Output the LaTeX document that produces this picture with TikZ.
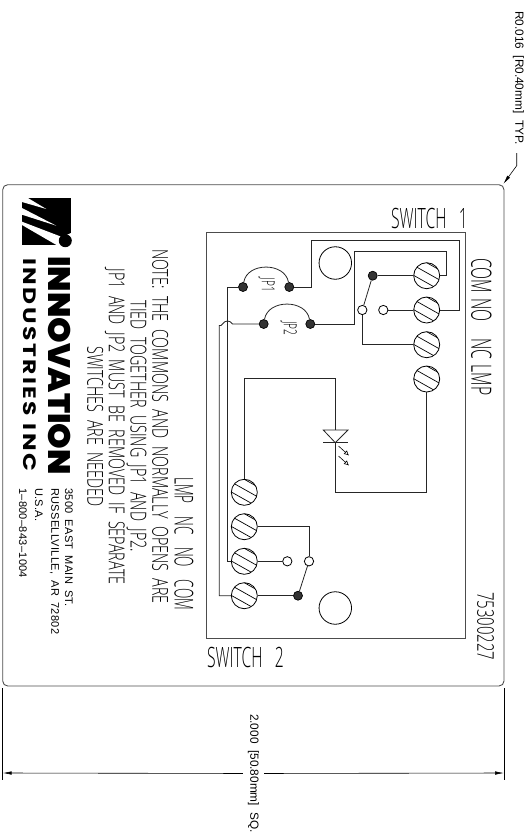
\documentclass[tikz,border=0pt]{standalone}
\usepackage{fontspec}
\usetikzlibrary{arrows.meta}
\newfontfamily\cadfont[FakeStretch=0.56,WordSpace=3]{Open Sans Light}
\newfontfamily\cadnarrow[FakeStretch=0.52,WordSpace=3.6]{Open Sans Light}
\newfontfamily\cadnote[FakeStretch=0.65,WordSpace=2]{Open Sans Light}
\newfontfamily\dimfont[WordSpace=2]{Liberation Sans}
\newfontfamily\addrfont[LetterSpace=3,WordSpace=1.8]{Liberation Sans}
\newfontfamily\logofont[FakeStretch=1.05]{Poppins Black}
\newfontfamily\logosub[FakeStretch=1.3,LetterSpace=14]{Poppins Bold}
\tikzset{
    wire/.style={draw=black!85,line width=0.8pt},
    outline/.style={draw=black!70,line width=0.9pt},
    screw/.style={circle,draw=black,line width=0.8pt,minimum size=26pt,inner sep=0pt,path picture={
        \foreach \d in {-13,-3,7} {\draw[line width=0.7pt] ([shift={(-16,\d-9)}]path picture bounding box.center) -- ([shift={(16,\d+9)}]path picture bounding box.center);}
    }},
    opendot/.style={circle,draw=black,fill=white,line width=0.8pt,minimum size=9.3pt,inner sep=0pt},
    blackdot/.style={circle,draw=black,fill=black!80,line width=0.7pt,minimum size=9pt,inner sep=0pt},
    hole/.style={circle,draw=black,line width=0.8pt,minimum size=32.5pt,inner sep=0pt},
    sidetext/.style={rotate=-90,inner sep=0pt},
    dimarrow/.style={line width=0.6pt,-{Latex[length=9pt,width=3.5pt]}},
    emitarrow/.style={line width=0.6pt,-{Latex[open,length=5pt,width=5pt]}},
}
\begin{document}
\begin{tikzpicture}[x=1pt,y=-1pt]
    \useasboundingbox (0,0) rectangle (532,836);

    % board outlines
    \draw[outline,rounded corners=5pt] (2.7,184.7) rectangle (504,686);
    \draw[outline] (206.3,232.7) rectangle (465,638.3);

    % logo
    \fill[black] (22,198) -- (71,198) -- (71,245) -- (22,245) -- cycle;
    \fill[white] (22,198) -- (28,198) -- (46.3,209) -- (22,202) -- cycle;
    \fill[white] (22,208) -- (56.3,225.7) -- (22,214.7) -- cycle;
    \fill[white] (22,221.7) -- (62,237) -- (71,233) -- (71,245.5) -- (57.3,245.5) -- (22,225) -- cycle;
    \fill[black] (65.3,240.7) circle (6.5pt);
    \node[sidetext,anchor=south west] (logotop) at (48,256) {\logofont\fontsize{31}{31}\selectfont INNOVATION};
    \node[sidetext,anchor=south west] (logobot) at (23,258) {\logosub\fontsize{18}{18}\selectfont INDUSTRIES INC};

    % printed texts
    \node[anchor=west,inner sep=0pt] (sw1) at (391,218) {\cadfont\fontsize{28}{28}\selectfont SWITCH 1};
    \node[anchor=west,inner sep=0pt] (sw2) at (207,657) {\cadfont\fontsize{28}{28}\selectfont SWITCH 2};
    \node[sidetext,anchor=west] (toplabels) at (481.5,258) {\cadfont\fontsize{28}{28}\selectfont COM\hspace{5pt}NO\hspace{17pt}NC\hspace{5pt}LMP};
    \node[sidetext,anchor=west] (botlabels) at (184,477) {\cadnarrow\fontsize{26}{26}\selectfont LMP NC NO COM};
    \node[sidetext,anchor=west] (partno) at (485.5,592) {\cadnote\fontsize{23}{23}\selectfont 75300227};
    \node[sidetext,align=center,font=\cadnote\fontsize{22}{21.7}\selectfont] (note) at (127.7,426.5)
        {NOTE: THE COMMONS AND NORMALLY OPENS ARE\\TIED TOGETHER USING JP1 AND JP2.\\JP1 AND JP2 MUST BE REMOVED IF SEPARATE\\SWITCHES ARE NEEDED};
    \node[sidetext,anchor=west,font=\addrfont\fontsize{11}{11}\selectfont] (addr1) at (69,488) {3500 EAST MAIN ST.};
    \node[sidetext,anchor=west,font=\addrfont\fontsize{11}{11}\selectfont] (addr2) at (54.5,488) {RUSSELLVILLE, AR 72802};
    \node[sidetext,anchor=west,font=\addrfont\fontsize{11}{11}\selectfont] (addr3) at (39,488) {U.S.A.};
    \node[sidetext,anchor=west,font=\addrfont\fontsize{11}{11}\selectfont] (addr4) at (23,488) {1–800–843–1004};

    % terminals
    \node[screw] (com1) at (426.7,275.7) {};
    \node[screw] (no1) at (426.7,310) {};
    \node[screw] (nc1) at (426.7,344.7) {};
    \node[screw] (lmp1) at (426.7,379) {};
    \node[screw] (lmp2) at (244.3,492.3) {};
    \node[screw] (nc2) at (244.3,526.7) {};
    \node[screw] (no2) at (244.3,561.3) {};
    \node[screw] (com2) at (244.3,595.7) {};
    \node[hole] (hole1) at (335.3,263) {};
    \node[hole] (hole2) at (335.3,608) {};

    % jumpers
    \node[blackdot] (jp1a) at (243,287) {};
    \node[blackdot] (jp1b) at (289.3,287) {};
    \node[blackdot] (jp2a) at (263.7,324) {};
    \node[blackdot] (jp2b) at (310.3,324) {};
    \draw[wire] (jp1a) .. controls (247,262) and (285,262) .. (jp1b);
    \draw[wire] (jp2a) .. controls (268,299) and (306,299) .. (jp2b);
    \node[sidetext,font=\cadfont\fontsize{18}{18}\selectfont] (jp1) at (266.7,285) {JP1};
    \node[sidetext,font=\cadfont\fontsize{18}{18}\selectfont] (jp2) at (288.7,328.5) {JP2};

    % switch 1
    \node[blackdot] (arm1) at (372.7,275.7) {};
    \node[opendot] (piv1) at (362.3,310) {};
    \node[opendot] (con1) at (383.3,310) {};
    \draw[wire] (arm1) to (com1);
    \draw[wire] (arm1) to (piv1);
    \draw[wire] (con1) to (no1);
    \draw[wire] (piv1) |- (nc1);
    \draw[wire] (com1.east) -| (446.7,251.3) -| (354.7,324) to (jp2b);
    \draw[wire] (no1.east) -| (459.3,240.3) -| (311.3,287) to (jp1b);

    % switch 2
    \node[blackdot] (arm2) at (298,595.7) {};
    \node[opendot] (piv2) at (309,561.3) {};
    \node[opendot] (con2) at (287.3,561.3) {};
    \draw[wire] (arm2) to (com2);
    \draw[wire] (arm2) to (piv2);
    \draw[wire] (con2) to (no2);
    \draw[wire] (nc2.east) -| (piv2);

    % commons
    \draw[wire] (jp1a) -| (227.3,561.3) to (no2);
    \draw[wire] (jp2a) to (232.5,324) .. controls (230,320) and (225,320) .. (222.5,324) to (221,325.5) to (219.3,325.5) |- (com2);

    % lamp
    \coordinate (ledtop) at (335.3,430);
    \coordinate (ledtip) at (335.3,442.7);
    \coordinate (ledbot) at (335.3,492.3);
    \draw[wire] (lmp2) -- (244.3,378.7) -| (ledtop);
    \draw[wire] (ledtop) -- (323.3,430) -- (ledtip) -- (348,430) -- cycle;
    \draw[wire] (323,442.7) -- (348,442.7);
    \draw[wire] (ledtip) -- (ledbot) -| (lmp1);
    \draw[emitarrow] (338.5,446) -- (349,455.5);
    \draw[emitarrow] (338.5,456) -- (349,465.5);

    % dimensions
    \coordinate (rleader) at (516.7,153);
    \coordinate (rbend) at (516.7,165.7);
    \coordinate (rtip) at (503.3,184);
    \draw[dimarrow] (rleader) -- (rbend) -- (rtip);
    \node[sidetext,anchor=west,font=\dimfont\fontsize{11.8}{11.8}\selectfont] (rnote) at (518.5,11) {R0.016 [R0.40mm] TYP.};

    \coordinate (dimla) at (2.7,688);
    \coordinate (dimlb) at (2.7,780);
    \coordinate (dimra) at (504,688);
    \coordinate (dimrb) at (504,780);
    \coordinate (diml) at (2.7,773);
    \coordinate (dimr) at (504,773);
    \draw[line width=0.6pt] (dimla) -- (dimlb);
    \draw[line width=0.6pt] (dimra) -- (dimrb);
    \node[sidetext,font=\dimfont\fontsize{11.8}{11.8}\selectfont,inner xsep=0pt,inner ysep=5pt] (dimtext) at (253.5,773.5) {2.000 [50.80mm] SQ.};
    \draw[dimarrow] (dimtext) -- (diml);
    \draw[dimarrow] (dimtext) -- (dimr);
\end{tikzpicture}
\end{document}
